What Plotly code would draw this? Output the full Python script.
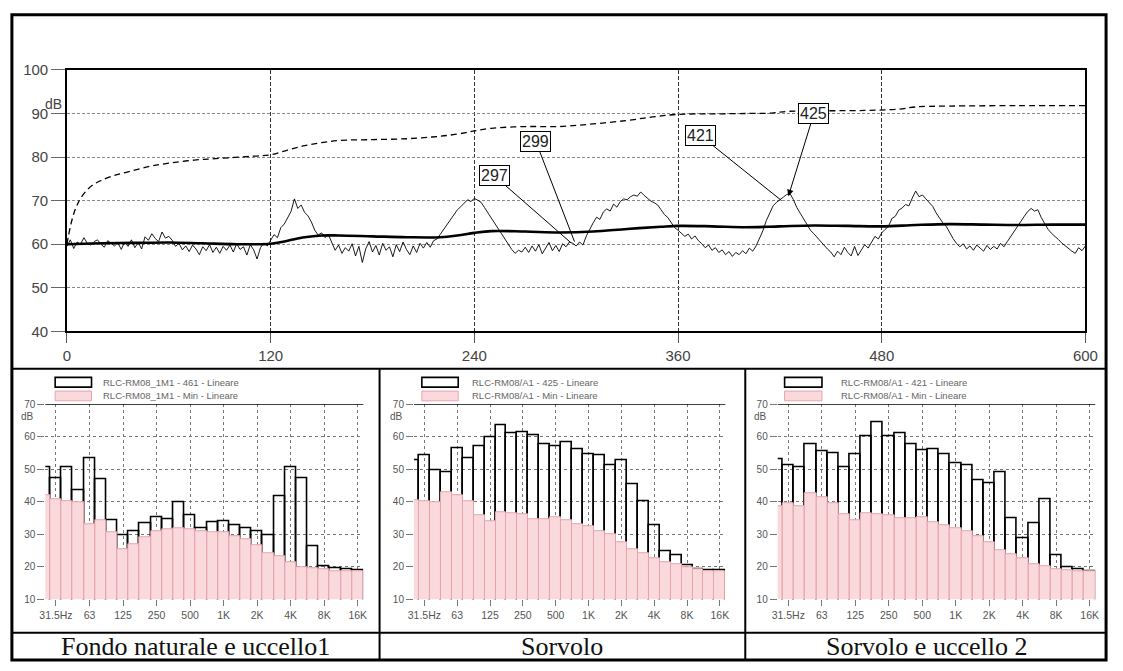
import plotly.graph_objects as go

W, H = 1123, 671

# ---------------- data: top chart (time history, s / dB) ----------------
t_inst = list(range(0, 601, 2))
inst_db = [
    59.5, 61.0, 59.0, 60.5, 60.0, 61.5, 60.2, 59.8, 60.6, 61.0, 60.0, 59.3, 60.8, 60.1, 59.6,
    60.3, 58.8, 60.5, 59.5, 61.0, 59.2, 60.4, 58.9, 61.7, 60.9, 62.4, 61.3, 60.6, 62.8, 61.4,
    61.8, 60.9, 59.5, 60.2, 58.7, 59.6, 58.3, 59.8, 58.9, 57.6, 59.4, 58.5, 59.9, 58.1, 59.3,
    57.9, 59.5, 58.6, 59.8, 58.2, 60.1, 58.8, 59.4, 57.5, 59.9, 58.7, 56.6, 59.2, 60.3, 59.6,
    61.0, 62.2, 61.5, 63.8, 64.6, 65.9, 67.5, 70.4, 68.2, 69.0, 67.3, 66.5, 65.1, 63.2, 62.1,
    62.6, 61.5, 62.2, 60.4, 58.6, 59.8, 57.9, 59.2, 58.4, 60.1, 57.3, 59.5, 55.8, 58.9, 60.6,
    58.2, 59.7, 57.5, 60.2, 58.6, 59.4, 57.1, 59.9, 58.3, 60.5, 58.8, 57.6, 59.6, 58.1, 60.2,
    59.1, 60.4, 59.3, 60.8, 61.2, 62.3, 63.4, 64.6, 65.9, 66.8, 67.9, 68.6, 69.4, 70.2, 69.8,
    70.5, 70.1, 69.6, 68.4, 67.2, 66.1, 64.8, 63.5, 62.4, 61.2, 60.1, 58.8, 57.9, 58.6, 58.2,
    59.3, 58.1, 59.6, 58.4, 59.9, 57.8, 59.2, 60.4, 58.5, 59.7, 58.3, 60.1, 59.4, 60.5, 60.2,
    59.6, 60.5, 59.8, 61.9, 63.6, 64.9, 66.2, 65.7, 67.4, 68.1, 67.6, 69.2, 68.5, 69.8, 70.4,
    70.2, 70.9, 71.3, 71.0, 72.0, 71.2, 70.5, 69.9, 69.5, 69.0, 67.9, 66.8, 66.1, 64.9, 63.8,
    63.2, 62.5, 61.8, 62.3, 61.2, 61.9, 60.8, 60.1, 59.2, 59.8, 58.6, 59.2, 58.1, 58.7, 57.6,
    58.3, 57.2, 58.1, 57.6, 58.5, 57.8, 59.1, 58.4, 59.6, 61.2, 63.1, 65.4, 67.2, 68.8, 69.6,
    70.3, 70.8, 71.4, 71.6, 70.2, 68.4, 67.1, 65.9, 64.6, 63.2, 62.4, 61.5, 60.6, 59.8, 58.9,
    58.2, 57.1, 58.4, 57.6, 59.3, 58.1, 57.3, 59.5, 57.4, 58.8, 59.9, 59.1, 60.6, 61.8, 61.2,
    62.6, 63.4, 64.1, 65.9, 66.4, 67.8, 68.3, 69.1, 68.8, 70.6, 72.2, 70.9, 71.3, 70.4, 69.6,
    68.7, 67.2, 66.1, 64.9, 64.1, 62.6, 61.3, 60.2, 59.4, 60.1, 58.9, 59.6, 58.6, 59.8, 59.1,
    58.4, 59.7, 58.8, 59.5, 58.9, 60.2, 59.4, 60.6, 61.8, 63.1, 64.2, 65.3, 66.4, 67.5, 68.2,
    67.6, 67.9, 66.1, 64.8, 63.4, 62.5, 61.9, 61.1, 60.3, 59.6, 59.1, 58.4, 57.9, 59.2, 58.5,
    59.6,
]

t_leq = [0, 20, 40, 60, 80, 100, 120, 130, 140, 150, 160, 180, 200, 220, 230, 240, 250, 270,
         290, 310, 330, 350, 360, 380, 400, 420, 440, 460, 480, 500, 520, 540, 560, 580, 600]
leq_db = [60.0, 60.2, 60.3, 60.4, 60.2, 60.0, 60.1, 60.8, 61.6, 62.0, 62.0, 61.8, 61.6, 61.6,
          62.0, 62.6, 63.0, 62.9, 62.7, 62.9, 63.5, 64.0, 64.2, 64.1, 63.9, 64.1, 64.3, 64.2,
          64.1, 64.4, 64.6, 64.5, 64.4, 64.5, 64.5]

t_max = [0, 2, 4, 6, 8, 12, 16, 20, 28, 36, 48, 60, 75, 90, 110, 120, 130, 140, 150, 160, 180,
         200, 215, 225, 235, 240, 250, 270, 290, 310, 330, 345, 360, 380, 400, 415, 425, 440,
         470, 490, 500, 520, 560, 600]
max_db = [60.0, 64.0, 67.0, 69.0, 70.5, 72.5, 73.8, 74.6, 75.8, 76.6, 77.8, 78.6, 79.3, 79.7,
          80.2, 80.5, 81.6, 82.6, 83.3, 83.8, 84.0, 84.2, 84.6, 85.0, 85.6, 86.0, 86.6, 87.0,
          87.0, 87.6, 88.4, 89.2, 89.8, 89.9, 90.0, 90.1, 90.5, 90.6, 90.7, 91.0, 91.5, 91.7,
          91.8, 91.8]

time_ticks = [0, 120, 240, 360, 480, 600]
db_ticks = [40, 50, 60, 70, 80, 90, 100]

# markers: label, target time, target dB, box time, box dB
mark_labels = ["297", "299", "421", "425"]
mark_t = [297, 299, 421, 425]
mark_db = [60.3, 60.6, 70.0, 71.0]
mark_box_t = [251.8, 276.2, 373.3, 440.0]
mark_box_db = [75.7, 83.6, 84.9, 89.9]

# ---------------- data: third-octave spectra ----------------
bands = ["25", "31.5", "40", "50", "63", "80", "100", "125", "160", "200", "250", "315",
         "400", "500", "630", "800", "1000", "1250", "1600", "2000", "2500", "3150", "4000",
         "5000", "6300", "8000", "10000", "12500", "16000"]
band_tickvals = ["31.5", "63", "125", "250", "500", "1000", "2000", "4000", "8000", "16000"]
band_ticktext = ["31.5Hz", "63", "125", "250", "500", "1K", "2K", "4K", "8K", "16K"]
spec_ticks = [10, 20, 30, 40, 50, 60, 70]

p1_max = [50.5, 47.2, 50.5, 43.5, 53.3, 46.8, 34.2, 29.7, 31.0, 33.5, 35.2, 34.7, 39.7, 35.8,
          31.8, 33.7, 34.0, 32.7, 31.7, 31.0, 29.7, 41.8, 50.5, 47.2, 26.3, 20.0, 19.5, 19.3, 18.8]
p1_min = [41.9, 40.7, 40.2, 39.7, 33.2, 34.2, 30.5, 25.5, 27.0, 29.0, 31.0, 31.5, 31.8, 31.5,
          31.0, 30.5, 30.5, 29.3, 28.3, 26.5, 24.2, 23.2, 21.5, 19.7, 19.5, 19.3, 18.7, 18.5, 18.5]
p2_max = [52.8, 54.3, 49.7, 49.0, 56.5, 53.3, 57.0, 59.7, 63.5, 61.0, 61.5, 60.5, 57.8, 57.2,
          58.3, 56.0, 54.7, 54.3, 51.2, 52.7, 45.5, 40.2, 32.8, 24.7, 23.5, 20.3, 19.3, 19.0, 19.0]
p2_min = [40.5, 40.2, 39.7, 43.0, 42.0, 40.2, 35.7, 34.0, 36.8, 36.5, 36.0, 34.7, 34.7, 35.2,
          34.2, 33.2, 32.5, 31.0, 30.0, 27.5, 25.3, 24.2, 22.5, 21.5, 20.8, 19.8, 19.3, 18.7, 18.7]
p3_max = [53.0, 51.3, 50.5, 57.7, 55.5, 55.0, 50.7, 54.7, 60.0, 64.5, 60.0, 61.2, 57.8, 55.7,
          56.0, 54.5, 51.8, 51.3, 46.7, 45.8, 49.0, 34.8, 28.7, 33.5, 40.7, 23.5, 19.7, 19.3, 18.5]
p3_min = [38.7, 39.5, 38.7, 42.5, 41.3, 39.5, 36.0, 34.2, 36.5, 36.0, 35.8, 34.8, 34.8, 35.2,
          33.7, 32.7, 31.7, 30.8, 29.5, 27.5, 25.2, 23.7, 22.5, 20.7, 20.0, 19.3, 19.0, 18.5, 18.5]

panel_max = [p1_max, p2_max, p3_max]
panel_min = [p1_min, p2_min, p3_min]
legend_max = ["RLC-RM08_1M1 - 461 - Lineare", "RLC-RM08/A1 - 425 - Lineare",
              "RLC-RM08/A1 - 421 - Lineare"]
legend_min = ["RLC-RM08_1M1 - Min - Lineare", "RLC-RM08/A1 - Min - Lineare",
              "RLC-RM08/A1 - Min - Lineare"]
captions = ["Fondo naturale e uccello1", "Sorvolo", "Sorvolo e uccello 2"]


# ---------------- layout helpers (pixel -> paper) ----------------
def px(x):
    return x / W


def py(y):
    return 1 - y / H


SANS = "Liberation Sans, Arial, sans-serif"
SERIF = "Liberation Serif, Times New Roman, serif"
PINK_FILL = "#f9d9dc"
PINK_LINE = "#e8a4ac"

fig = go.Figure()

# top chart traces
fig.add_trace(go.Scatter(x=t_inst, y=inst_db, mode="lines",
                         line=dict(color="black", width=0.9), xaxis="x", yaxis="y"))
fig.add_trace(go.Scatter(x=t_max, y=max_db, mode="lines",
                         line=dict(color="black", width=1.3, dash="6px,4px", shape="spline"),
                         xaxis="x", yaxis="y"))
fig.add_trace(go.Scatter(x=t_leq, y=leq_db, mode="lines",
                         line=dict(color="black", width=2.6, shape="spline"),
                         xaxis="x", yaxis="y"))

# spectra
for i in range(3):
    xa = "x%d" % (i + 2)
    ya = "y%d" % (i + 2)
    fig.add_trace(go.Bar(x=bands, y=panel_max[i], width=1.0,
                         marker=dict(color="rgba(255,255,255,0)",
                                     line=dict(color="black", width=1.6)),
                         xaxis=xa, yaxis=ya))
    fig.add_trace(go.Bar(x=bands, y=panel_min[i], width=1.0,
                         marker=dict(color=PINK_FILL, line=dict(color=PINK_LINE, width=1)),
                         xaxis=xa, yaxis=ya))

layout = dict(
    width=W, height=H, showlegend=False, hovermode=False,
    margin=dict(l=0, r=0, t=0, b=0),
    paper_bgcolor="white", plot_bgcolor="white",
    barmode="overlay", bargap=0,
    font=dict(family=SANS, color="#444"),
)

# top axes
layout["xaxis"] = dict(
    domain=[px(62), px(1098)], anchor="y", range=[0, 600],
    tickvals=time_ticks, ticks="outside", ticklen=10, tickcolor="#555",
    tickfont=dict(size=15, color="#444", family=SANS),
    showgrid=True, gridcolor="#333", griddash="4px,2px", gridwidth=1,
    showline=True, linecolor="black", linewidth=1.5, mirror=True, zeroline=False,
)
layout["yaxis"] = dict(
    domain=[py(330.7), py(62.5)], anchor="x", range=[40, 100],
    tickvals=db_ticks, ticks="outside", ticklen=14, tickcolor="#666",
    tickfont=dict(size=15, color="#444", family=SANS),
    showgrid=True, gridcolor="#888", griddash="3px,2px", gridwidth=1,
    showline=True, linecolor="black", linewidth=1.5, mirror=True, zeroline=False,
)

panel_x = [(40, 363.5), (415, 731.7), (785, 1108)]
for i, (x0, x1) in enumerate(panel_x):
    n = i + 2
    layout["xaxis%d" % n] = dict(
        domain=[px(x0), px(x1)], anchor="y%d" % n, type="category",
        categoryorder="array", categoryarray=bands, range=[0.05, 28.5],
        tickvals=band_tickvals, ticktext=band_ticktext,
        ticks="outside", ticklen=6, tickcolor="#777",
        tickfont=dict(size=10.5, color="#555", family=SANS),
        showgrid=True, gridcolor="#777", griddash="dot", gridwidth=1,
        showline=False, zeroline=False,
    )
    layout["yaxis%d" % n] = dict(
        domain=[py(605.5), py(405.5)], anchor="x%d" % n, range=[10, 70],
        tickvals=spec_ticks, ticks="outside", ticklen=7, tickcolor="#777",
        tickfont=dict(size=10, color="#555", family=SANS),
        showgrid=True, gridcolor="#777", griddash="dot", gridwidth=1,
        showline=False, zeroline=False,
    )

shapes = []
annotations = []

# frame and separators
shapes.append(dict(type="rect", xref="paper", yref="paper", x0=px(6), x1=px(1119),
                   y0=py(668), y1=py(6), line=dict(color="black", width=3)))
shapes.append(dict(type="line", xref="paper", yref="paper", x0=px(6), x1=px(1119),
                   y0=py(369), y1=py(369), line=dict(color="black", width=2)))
shapes.append(dict(type="line", xref="paper", yref="paper", x0=px(6), x1=px(1119),
                   y0=py(640), y1=py(640), line=dict(color="black", width=2)))
for sx in (380, 752):
    shapes.append(dict(type="line", xref="paper", yref="paper", x0=px(sx), x1=px(sx),
                       y0=py(668), y1=py(369), line=dict(color="black", width=2)))

# top "dB"
annotations.append(dict(xref="paper", yref="paper", x=px(38), y=py(87), text="dB",
                        showarrow=False, font=dict(size=14, color="#444", family=SANS)))

# marker annotations
for lab, tx, ty, bx, by in zip(mark_labels, mark_t, mark_db, mark_box_t, mark_box_db):
    head = 2 if lab == "425" else 0
    annotations.append(dict(
        xref="x", yref="y", axref="x", ayref="y", x=tx, y=ty, ax=bx, ay=by,
        text=lab, showarrow=True, arrowhead=head, arrowsize=1.3, arrowwidth=1,
        arrowcolor="black", standoff=0,
        font=dict(size=16, color="#222", family=SANS),
        bordercolor="black", borderwidth=1, borderpad=1, bgcolor="white",
    ))

# spectra: top border line, legend, dB label, captions
legend_x = [(50, 87, 97), (423, 460, 472), (792, 830, 847)]
cap_centers = [193, 566, 936]
for i in range(3):
    n = i + 2
    x0, x1 = panel_x[i]
    shapes.append(dict(type="line", xref="x%d domain" % n, yref="y%d" % n, x0=0, x1=1,
                       y0=70, y1=70, line=dict(color="black", width=1.6)))
    bx0, bx1, tx = legend_x[i]
    shapes.append(dict(type="rect", xref="paper", yref="paper", x0=px(bx0), x1=px(bx1),
                       y0=py(388), y1=py(378), line=dict(color="black", width=1.6),
                       fillcolor="white"))
    shapes.append(dict(type="rect", xref="paper", yref="paper", x0=px(bx0), x1=px(bx1),
                       y0=py(402), y1=py(392), line=dict(color=PINK_LINE, width=1),
                       fillcolor=PINK_FILL))
    annotations.append(dict(xref="paper", yref="paper", x=px(tx), y=py(383),
                            xanchor="left", yanchor="middle", text=legend_max[i],
                            showarrow=False, font=dict(size=9.5, color="#666", family=SANS)))
    annotations.append(dict(xref="paper", yref="paper", x=px(tx), y=py(397),
                            xanchor="left", yanchor="middle", text=legend_min[i],
                            showarrow=False, font=dict(size=9.5, color="#666", family=SANS)))
    annotations.append(dict(xref="paper", yref="paper", x=px(x0 - 9), y=py(418),
                            xanchor="right", yanchor="middle", text="dB",
                            showarrow=False, font=dict(size=10, color="#555", family=SANS)))
    annotations.append(dict(xref="paper", yref="paper", x=px(cap_centers[i]), y=py(654),
                            xanchor="center", yanchor="middle", text=captions[i],
                            showarrow=False, font=dict(size=26, color="#111", family=SERIF)))

layout["shapes"] = shapes
layout["annotations"] = annotations
fig.update_layout(**layout)

fig.write_html("out.html")
